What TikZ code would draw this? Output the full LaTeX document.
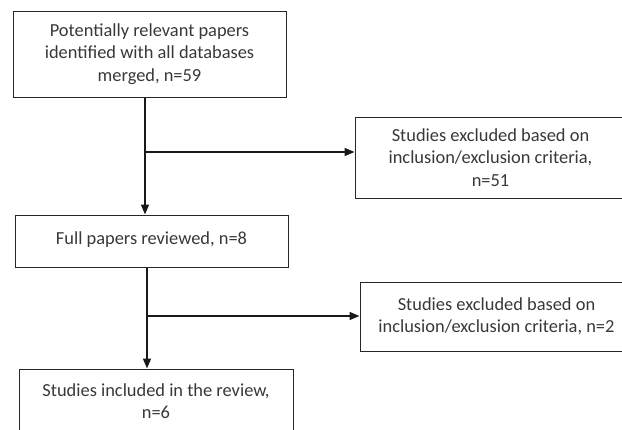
\documentclass[tikz,border=0pt]{standalone}
\usepackage{fontspec}
\setmainfont{Carlito}
\usetikzlibrary{arrows.meta}
\begin{document}
\begin{tikzpicture}[x=1pt,y=-1pt,
  box/.style={draw=black!85, line width=1pt, align=center, inner sep=0pt,
    text=black!78, font=\fontsize{18.4}{22.5}\selectfont},
  link/.style={draw=black!90, line width=1.5pt, -{Triangle[length=10pt,width=8pt]}}]
\path[use as bounding box] (0,0) rectangle (622,429);
\clip (0,0) rectangle (622,429);
\node[box, minimum width=273pt, minimum height=86pt] (b1) at (149.5,54)
  {Potentially relevant papers\\identified with all databases\\merged, n=59};
\node[box, minimum width=271pt, minimum height=81pt] (b3) at (490.5,157.5)
  {Studies excluded based on\\inclusion/exclusion criteria,\\n=51};
\node[box, minimum width=273pt, minimum height=52pt] (b2) at (151.5,241)
  {\raisebox{6pt}{Full papers reviewed, n=8}};
\node[box, minimum width=273pt, minimum height=69pt] (b4) at (496.5,316.5)
  {Studies excluded based on\\inclusion/exclusion criteria, n=2};
\node[box, minimum width=274pt, minimum height=64pt] (b5) at (156,401)
  {Studies included in the review,\\n=6};
\coordinate (j1) at (145,152);
\coordinate (j2) at (147,316);
\draw[link] (b1.south -| j1) -- (b2.north -| j1);
\draw[link] (j1) -- (j1 -| b3.west);
\draw[link] (b2.south -| j2) -- (b5.north -| j2);
\draw[link] (j2) -- (j2 -| b4.west);
\end{tikzpicture}
\end{document}
